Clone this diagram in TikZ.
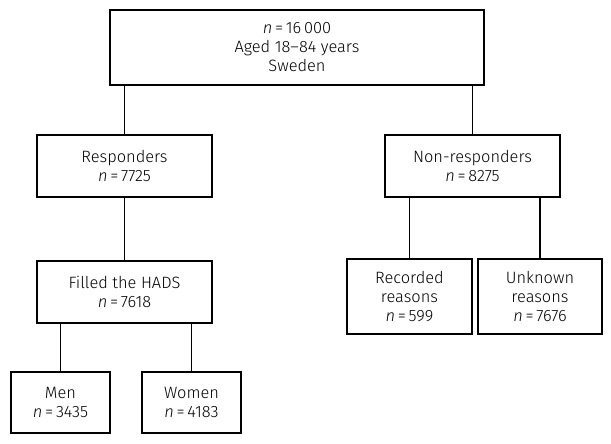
\documentclass[tikz,border=0pt]{standalone}
\usepackage{fontspec}
\setmainfont{Fira Sans}[UprightFont=* Light, ItalicFont=* Light Italic]
\usepackage{tikz}

\newcommand{\nval}[1]{\textit{n}\,=\,#1}

\begin{document}
\begin{tikzpicture}[x=0.03cm, y=-0.03cm, thick, line width=1pt,
    box/.style={draw, line width=1pt, align=center, inner sep=0pt, font=\fontsize{14}{16.2}\selectfont}]
    \useasboundingbox (0,0) rectangle (611,443);

    \node[box, minimum width=374*0.03cm, minimum height=75*0.03cm] at (297, 47.5)   (top) {\nval{16\,000}\\Aged 18--84 years\\Sweden};

    \node[box, minimum width=175*0.03cm, minimum height=62*0.03cm] at (124.5, 166)   (resp) {Responders\\\nval{7725}};
    \node[box, minimum width=175*0.03cm, minimum height=62*0.03cm] at (472.5, 166)   (nonresp) {Non-responders\\\nval{8275}};

    \node[box, minimum width=175*0.03cm, minimum height=62*0.03cm] at (124.5, 292)   (hads) {Filled the HADS\\\nval{7618}};
    \node[box, minimum width=99*0.03cm, minimum height=61*0.03cm] at (60.5, 402.5)   (men) {Men\\\nval{3435}};
    \node[box, minimum width=99*0.03cm, minimum height=61*0.03cm] at (191.5, 402.5)   (women) {Women\\\nval{4183}};

    \node[box, minimum width=125*0.03cm, minimum height=75*0.03cm] at (409.5, 296.5)   (recorded) {Recorded\\reasons\\\nval{599}};
    \node[box, minimum width=124*0.03cm, minimum height=75*0.03cm] at (540, 296.5)   (unknown) {Unknown\\reasons\\\nval{7676}};

    \draw (resp.north) -- (resp.north |- top.south);
    \draw (nonresp.north) -- (nonresp.north |- top.south);
    \draw (resp) -- (hads);
    \draw (men.north) -- (men.north |- hads.south);
    \draw (women.north) -- (women.north |- hads.south);
    \draw (recorded.north) -- (recorded.north |- nonresp.south);
    \draw (unknown.north) -- (unknown.north |- nonresp.south);

\end{tikzpicture}
\end{document}
